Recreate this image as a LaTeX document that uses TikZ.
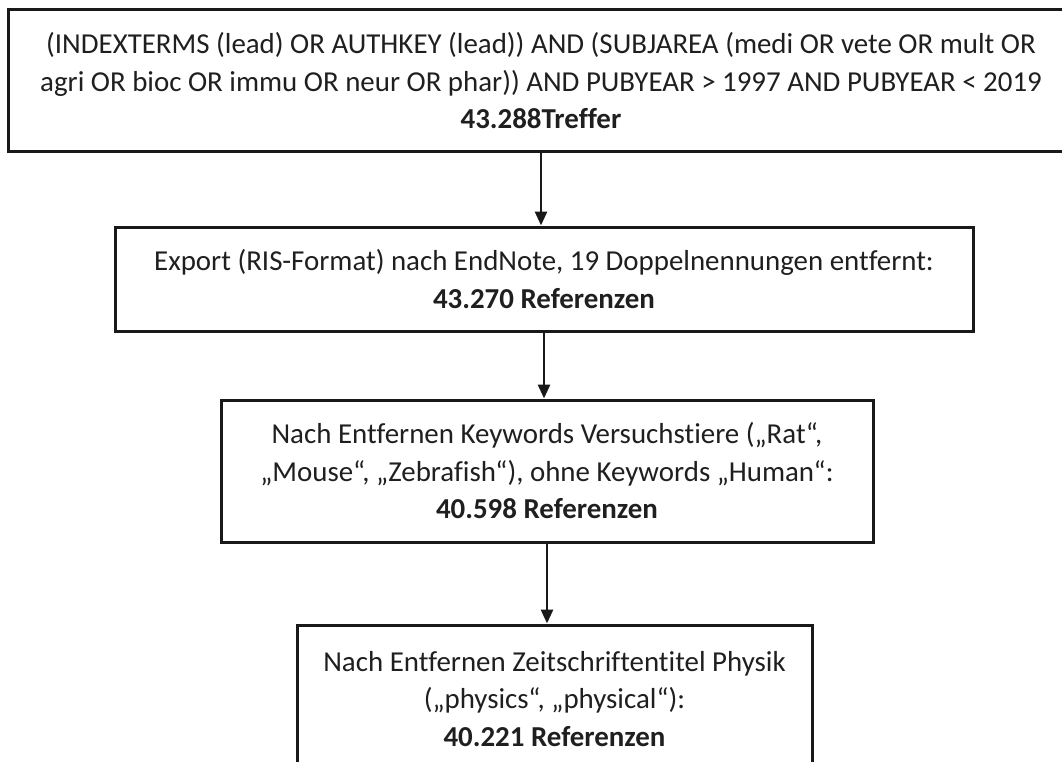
\documentclass[tikz,border=0pt]{standalone}
\usepackage{fontspec}
\setmainfont{Carlito}[Ligatures=NoCommon]
\usetikzlibrary{arrows.meta}
\begin{document}
\begin{tikzpicture}[x=1pt,y=-1pt,
  flowbox/.style={draw=black!90, line width=3pt, inner sep=0pt, align=center,
    font=\fontsize{28.9}{37.5}\selectfont, text=black!88},
  arr/.style={line width=2.8pt, draw=black!90, -{Triangle[length=14pt,width=12pt]}}]
\useasboundingbox (0,0) rectangle (1062,762);
\clip (0,0) rectangle (1062,762);
\fill[white] (0,0) rectangle (1062,762);
\node[flowbox, minimum width=1066pt, minimum height=142pt] (b1) at (541,81)
  {(INDEXTERMS (lead) OR AUTHKEY (lead)) AND (SUBJAREA (medi OR vete OR mult OR\\
   agri OR bioc OR immu OR neur OR phar)) AND PUBYEAR > 1997 AND PUBYEAR < 2019\\
   \textbf{43.288Treffer}};
\node[flowbox, minimum width=858pt, minimum height=104pt] (b2) at (544,279)
  {Export (RIS-Format) nach EndNote, 19 Doppelnennungen entfernt:\\
   \textbf{43.270 Referenzen}};
\node[flowbox, minimum width=652pt, minimum height=142pt] (b3) at (547,471)
  {Nach Entfernen Keywords Versuchstiere („Rat“,\\
   „Mouse“, „Zebrafish“), ohne Keywords „Human“:\\
   \textbf{40.598 Referenzen}};
\node[flowbox, minimum width=515pt, minimum height=148pt] (b4) at (554.5,699)
  {Nach Entfernen Zeitschriftentitel Physik\\
   („physics“, „physical“):\\
   \textbf{40.221 Referenzen}};
\draw[arr] (b1.south) -- (b1.south |- b2.north);
\draw[arr] (b2.south) -- (b2.south |- b3.north);
\draw[arr] (b3.south) -- (b3.south |- b4.north);
\end{tikzpicture}
\end{document}
